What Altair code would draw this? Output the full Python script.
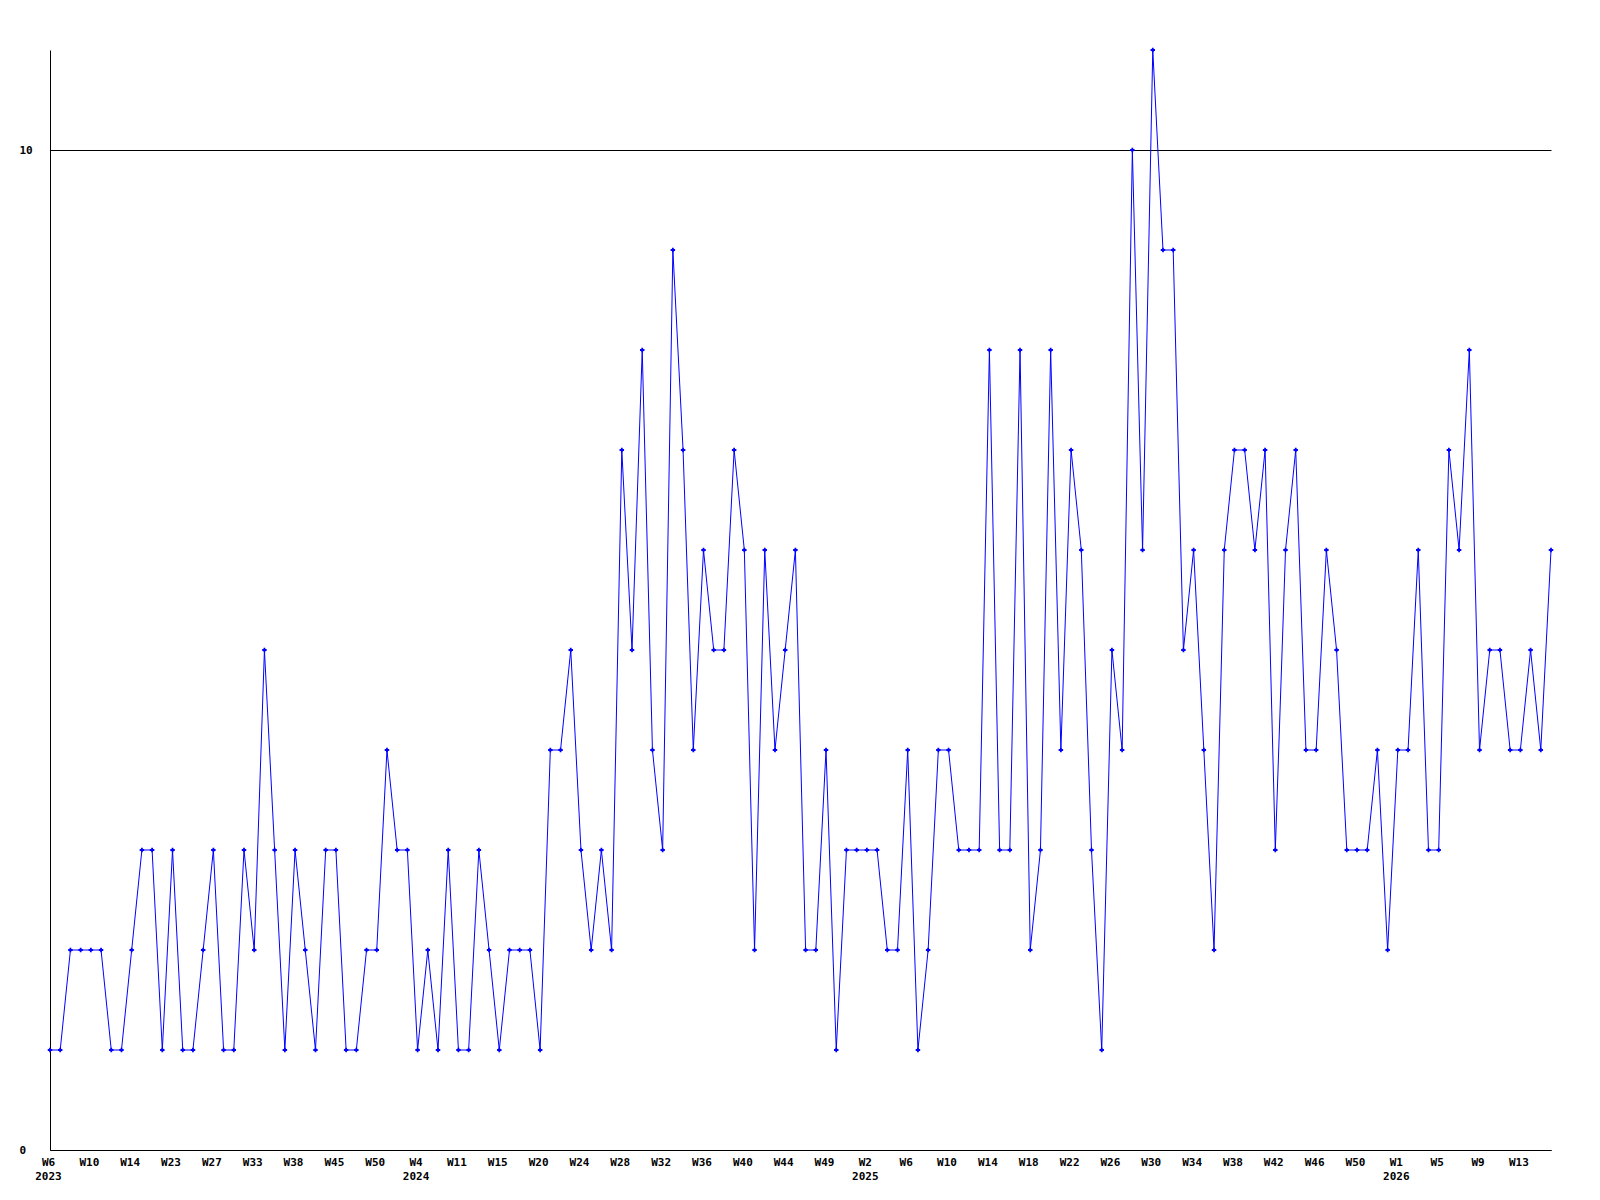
import altair as alt
import pandas as pd

values = [
    1, 1, 2, 2, 2, 2, 1, 1, 2, 3, 3, 1, 3, 1, 1, 2, 3, 1, 1, 3,
    2, 5, 3, 1, 3, 2, 1, 3, 3, 1, 1, 2, 2, 4, 3, 3, 1, 2, 1, 3,
    1, 1, 3, 2, 1, 2, 2, 2, 1, 4, 4, 5, 3, 2, 3, 2, 7, 5, 8, 4,
    3, 9, 7, 4, 6, 5, 5, 7, 6, 2, 6, 4, 5, 6, 2, 2, 4, 1, 3, 3,
    3, 3, 2, 2, 4, 1, 2, 4, 4, 3, 3, 3, 8, 3, 3, 8, 2, 3, 8, 4,
    7, 6, 3, 1, 5, 4, 10, 6, 11, 9, 9, 5, 6, 4, 2, 6, 7, 7, 6, 7,
    3, 6, 7, 4, 4, 6, 5, 3, 3, 3, 4, 2, 4, 4, 6, 3, 3, 7, 6, 8,
    4, 5, 5, 4, 4, 5, 4, 6,
]

tick_labels = [
    "W6", "W10", "W14", "W23", "W27", "W33", "W38", "W45", "W50",
    "W4", "W11", "W15", "W20", "W24", "W28", "W32", "W36", "W40", "W44", "W49",
    "W2", "W6", "W10", "W14", "W18", "W22", "W26", "W30", "W34", "W38", "W42", "W46", "W50",
    "W1", "W5", "W9", "W13",
]
year_labels = {0: "2023", 9: "2024", 20: "2025", 33: "2026"}

label_arrays = []
for k, lab in enumerate(tick_labels):
    if k in year_labels:
        label_arrays.append('["%s","%s"]' % (lab, year_labels[k]))
    else:
        label_arrays.append('["%s"]' % lab)
label_expr = "[" + ",".join(label_arrays) + "][round(datum.value/4)]"

df = pd.DataFrame({"i": list(range(len(values))), "v": values})

FONT = "DejaVu Sans Mono"

x = alt.X(
    "i:Q",
    scale=alt.Scale(domain=[0, len(values) - 1], nice=False, zero=False),
    axis=alt.Axis(
        values=list(range(0, len(tick_labels) * 4, 4)),
        labelExpr=label_expr,
        title=None,
        grid=False,
        ticks=False,
        tickSize=0,
        domainColor="black",
        labelFont=FONT,
        labelFontWeight="bold",
        labelFontSize=11,
        labelColor="black",
        labelPadding=6,
        labelOffset=-2,
        labelLineHeight=14,
        labelBaseline="top",
        labelOverlap=False,
        labelFlush=False,
    ),
)
y = alt.Y(
    "v:Q",
    scale=alt.Scale(domain=[0, 11], nice=False),
    axis=alt.Axis(
        values=[0, 10],
        title=None,
        grid=True,
        gridColor="black",
        gridOpacity=1,
        gridWidth=1,
        ticks=False,
        tickSize=0,
        domainColor="black",
        labelFont=FONT,
        labelFontWeight="bold",
        labelFontSize=11,
        labelColor="black",
        labelAlign="left",
        labelPadding=31,
    ),
)

line = alt.Chart(df).mark_line(color="#0000ff", strokeWidth=1).encode(x=x, y=y)
pts = alt.Chart(df).mark_point(
    shape="cross", filled=True, color="#0000ff", size=20, opacity=1
).encode(x=x, y=y)

chart = (
    alt.layer(line, pts)
    .properties(
        width=1501,
        height=1100,
        autosize=alt.AutoSizeParams(type="none"),
        padding={"left": 42, "top": 42, "right": 40, "bottom": 40},
        background="white",
    )
    .configure_view(stroke=None)
)

chart.save("out.html", embed_options={"renderer": "svg", "actions": False})
